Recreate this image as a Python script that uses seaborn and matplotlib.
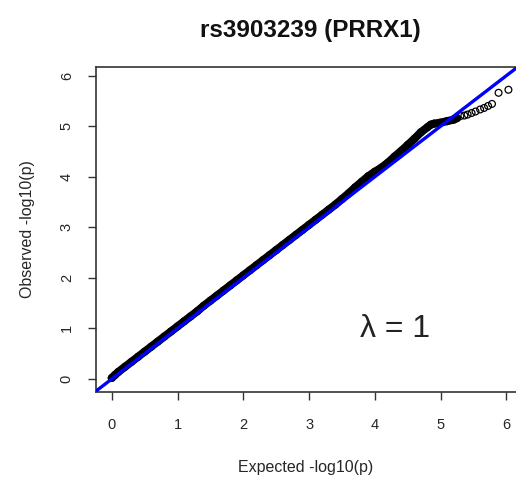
import matplotlib
matplotlib.use("Agg")
import matplotlib.pyplot as plt
import seaborn as sns
import pandas as pd

# ---- data ----
title = "rs3903239 (PRRX1)"
x_label = "Expected -log10(p)"
y_label = "Observed -log10(p)"
lambda_text = "λ = 1"
ticks = [0, 1, 2, 3, 4, 5, 6]

# dense part of the QQ curve (expected, observed)
exp_dense = [0.00, 0.05, 0.10, 0.20, 0.30, 0.40, 0.50, 0.60, 0.70, 0.80, 0.90,
             1.00, 1.10, 1.20, 1.30, 1.40, 1.50, 1.60, 1.70, 1.80, 1.90,
             2.00, 2.10, 2.20, 2.30, 2.40, 2.50, 2.60, 2.70, 2.80, 2.90,
             3.00, 3.10, 3.20, 3.30, 3.40, 3.50, 3.60, 3.70, 3.80, 3.90,
             4.00, 4.10, 4.20, 4.30, 4.40, 4.50, 4.60, 4.70, 4.80, 4.85,
             4.90, 5.00, 5.10, 5.20, 5.25]
obs_dense = [0.02, 0.08, 0.14, 0.24, 0.34, 0.44, 0.54, 0.64, 0.74, 0.84, 0.94,
             1.04, 1.14, 1.24, 1.34, 1.45, 1.55, 1.65, 1.75, 1.85, 1.95,
             2.05, 2.15, 2.25, 2.35, 2.45, 2.55, 2.65, 2.75, 2.85, 2.95,
             3.05, 3.15, 3.25, 3.35, 3.45, 3.56, 3.67, 3.79, 3.90, 4.01,
             4.10, 4.18, 4.28, 4.40, 4.51, 4.63, 4.75, 4.88, 4.98, 5.03,
             5.05, 5.07, 5.10, 5.13, 5.16]

# sparse tail of the QQ curve
exp_tail = [5.30, 5.36, 5.41, 5.47, 5.53, 5.60, 5.66, 5.72, 5.78, 5.88, 6.03]
obs_tail = [5.20, 5.21, 5.23, 5.26, 5.29, 5.33, 5.36, 5.40, 5.44, 5.66, 5.72]

dense = pd.DataFrame({"expected": exp_dense, "observed": obs_dense})
tail = pd.DataFrame({"expected": exp_tail, "observed": obs_tail})
allpts = pd.concat([dense, tail], ignore_index=True)

# ---- styling ----
sns.set_theme(style="white")
plt.rcParams["font.family"] = ["Liberation Sans", "DejaVu Sans"]

fig = plt.figure(figsize=(5.16, 4.80), dpi=100)
ax = fig.add_axes([96 / 516, 88 / 480, 1 - 96 / 516, (392 - 67) / 480])

# thick band for the dense overlapping points
sns.lineplot(data=dense, x="expected", y="observed", ax=ax, color="black",
             linewidth=5.8, sort=False, zorder=2)
sns.scatterplot(data=allpts, x="expected", y="observed", ax=ax, marker="o",
                s=24, facecolor="none", edgecolor="black", linewidth=0.9,
                zorder=3)

# y = x reference line
ax.axline((0, 0), slope=1, color="#0000ff", linewidth=2.4, zorder=4)

ax.set_xlim(-0.239, 6.145)
ax.set_ylim(-0.257, 6.17)
ax.set_xticks(ticks)
ax.set_yticks(ticks)
ax.set_xticklabels([str(t) for t in ticks], fontsize=10.5)
ax.set_yticklabels([str(t) for t in ticks], fontsize=10.5, rotation=90,
                   va="center")
ax.tick_params(axis="x", direction="out", length=6, width=1.0,
               color="#333333", pad=13, bottom=True)
ax.tick_params(axis="y", direction="out", length=6, width=1.0,
               color="#333333", pad=10, left=True)

for side in ["top", "left", "bottom"]:
    ax.spines[side].set_visible(True)
    ax.spines[side].set_color("#333333")
    ax.spines[side].set_linewidth(1.2)
ax.spines["right"].set_visible(False)

ax.set_xlabel(x_label, fontsize=11.5, labelpad=20)
ax.set_ylabel(y_label, fontsize=11.5, labelpad=18)
ax.grid(False)

ax.text(4.3, 0.98, lambda_text, fontsize=23, ha="center", va="center",
        color="#222222")

fig.text(310 / 516, 1 - 30 / 480, title, fontsize=17.5,
         fontweight="bold", ha="center", va="center", color="#111111")

fig.savefig("out.png", dpi=100)
